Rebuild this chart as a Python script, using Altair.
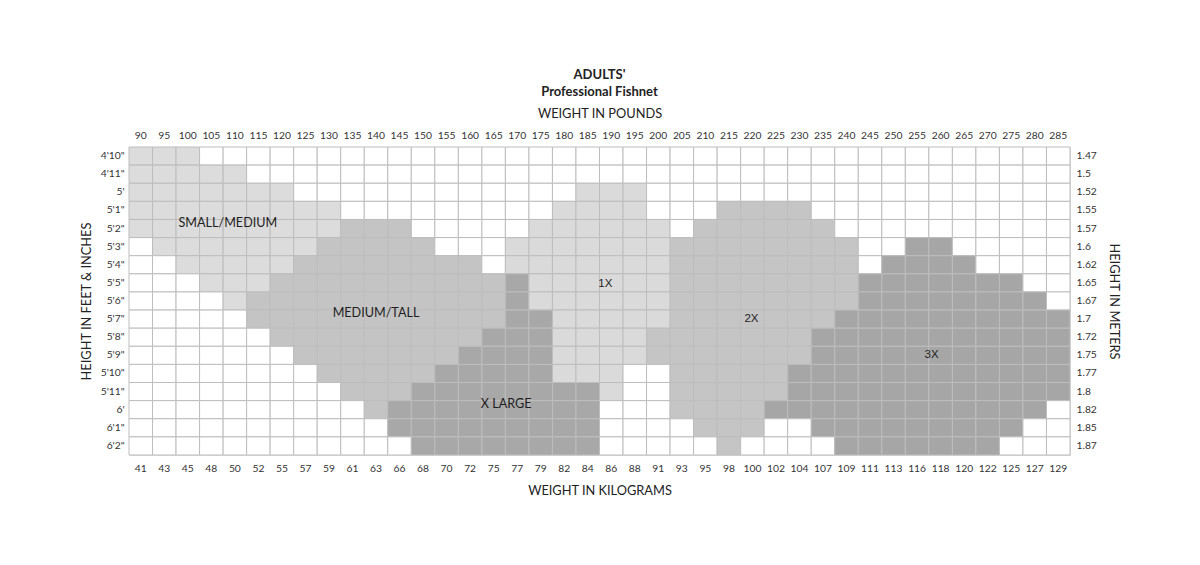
import altair as alt
import pandas as pd

# ---- data ----
lbs = [90, 95, 100, 105, 110, 115, 120, 125, 130, 135, 140, 145, 150, 155, 160, 165, 170, 175, 180, 185,
       190, 195, 200, 205, 210, 215, 220, 225, 230, 235, 240, 245, 250, 255, 260, 265, 270, 275, 280, 285]
kg = [41, 43, 45, 48, 50, 52, 55, 57, 59, 61, 63, 66, 68, 70, 72, 75, 77, 79, 82, 84,
      86, 88, 91, 93, 95, 98, 100, 102, 104, 107, 109, 111, 113, 116, 118, 120, 122, 125, 127, 129]
heights_ft = ["4'10\"", "4'11\"", "5'", "5'1\"", "5'2\"", "5'3\"", "5'4\"", "5'5\"", "5'6\"",
              "5'7\"", "5'8\"", "5'9\"", "5'10\"", "5'11\"", "6'", "6'1\"", "6'2\""]
heights_m = ["1.47", "1.5", "1.52", "1.55", "1.57", "1.6", "1.62", "1.65", "1.67",
             "1.7", "1.72", "1.75", "1.77", "1.8", "1.82", "1.85", "1.87"]

# (height, from lbs, to lbs) per size
small_medium = [("4'10\"", 90, 100), ("4'11\"", 90, 110), ("5'", 90, 120), ("5'1\"", 90, 130),
                ("5'2\"", 90, 130), ("5'3\"", 95, 125), ("5'4\"", 100, 120), ("5'5\"", 105, 115),
                ("5'6\"", 110, 110)]
medium_tall = [("5'2\"", 135, 145), ("5'3\"", 130, 150), ("5'4\"", 125, 160), ("5'5\"", 120, 165),
               ("5'6\"", 115, 165), ("5'7\"", 115, 165), ("5'8\"", 120, 160), ("5'9\"", 125, 155),
               ("5'10\"", 130, 150), ("5'11\"", 135, 145), ("6'", 140, 140)]
x_large = [("5'5\"", 170, 170), ("5'6\"", 170, 170), ("5'7\"", 170, 175), ("5'8\"", 165, 175),
           ("5'9\"", 160, 175), ("5'10\"", 155, 175), ("5'11\"", 150, 185), ("6'", 145, 185),
           ("6'1\"", 145, 185), ("6'2\"", 150, 185)]
one_x = [("5'", 185, 195), ("5'1\"", 180, 195), ("5'2\"", 175, 200), ("5'3\"", 170, 200),
         ("5'4\"", 170, 200), ("5'5\"", 175, 200), ("5'6\"", 175, 200), ("5'7\"", 180, 200),
         ("5'8\"", 180, 195), ("5'9\"", 180, 195), ("5'10\"", 180, 190), ("5'11\"", 190, 190)]
two_x = [("5'1\"", 215, 230), ("5'2\"", 210, 235), ("5'3\"", 205, 240), ("5'4\"", 205, 240),
         ("5'5\"", 205, 240), ("5'6\"", 205, 240), ("5'7\"", 205, 235), ("5'8\"", 200, 230),
         ("5'9\"", 200, 230), ("5'10\"", 205, 225), ("5'11\"", 205, 225), ("6'", 205, 220),
         ("6'1\"", 210, 220), ("6'2\"", 215, 215)]
three_x = [("5'3\"", 255, 260), ("5'4\"", 250, 265), ("5'5\"", 245, 275), ("5'6\"", 245, 280),
           ("5'7\"", 240, 285), ("5'8\"", 235, 285), ("5'9\"", 235, 285), ("5'10\"", 230, 285),
           ("5'11\"", 230, 285), ("6'", 225, 280), ("6'1\"", 235, 275), ("6'2\"", 240, 270)]

sizes = ["SMALL/MEDIUM", "MEDIUM/TALL", "X LARGE", "1X", "2X", "3X"]
size_ranges = [small_medium, medium_tall, x_large, one_x, two_x, three_x]
size_colors = ["#dcdcdc", "#c4c4c4", "#a8a8a8", "#dadada", "#c5c5c5", "#a6a6a6"]

# ---- build the cell table ----
lookup = {}
for name, ranges in zip(sizes, size_ranges):
    for h, a, b in ranges:
        for w in lbs:
            if a <= w <= b:
                lookup[(h, w)] = name

rows = []
for hi, h in enumerate(heights_ft):
    for wi, w in enumerate(lbs):
        rows.append({"lbs": w, "kg": kg[wi], "ft": h, "m": heights_m[hi],
                     "size": lookup.get((h, w), "none")})
cells = pd.DataFrame(rows)

FONT = "Lato"
LBL = "#333333"
TFS = 12.8

x_top = alt.X("lbs:O", sort=lbs, scale=alt.Scale(paddingInner=0, paddingOuter=0),
              axis=alt.Axis(orient="top", title="WEIGHT IN POUNDS", labelAngle=0, domain=False,
                            ticks=False, labelPadding=7, labelFont=FONT, labelFontSize=10.3,
                            labelColor=LBL, titleFont=FONT, titleFontSize=TFS,
                            titleFontWeight="normal", titleColor="#222222", titleY=-34,
                            titleBaseline="middle"))
y_left = alt.Y("ft:O", sort=heights_ft, scale=alt.Scale(paddingInner=0, paddingOuter=0),
               axis=alt.Axis(orient="left", title="HEIGHT IN FEET & INCHES", domain=False,
                             ticks=False, labelPadding=5, labelFont=FONT, labelFontSize=10.3,
                             labelColor=LBL, titleFont=FONT, titleFontSize=TFS,
                             titleFontWeight="normal", titleColor="#222222", titleX=-43,
                             titleAngle=-90, titleBaseline="middle"))

grid = alt.Chart(cells).mark_rect(stroke="#bdbdbd", strokeWidth=1).encode(
    x=x_top,
    y=y_left,
    color=alt.Color("size:N", scale=alt.Scale(domain=sizes + ["none"], range=size_colors + ["#ffffff"]),
                    legend=None),
)

second = alt.Chart(cells).mark_rect(opacity=0).encode(
    x=alt.X("kg:O", sort=kg, scale=alt.Scale(paddingInner=0, paddingOuter=0),
            axis=alt.Axis(orient="bottom", title="WEIGHT IN KILOGRAMS", labelAngle=0, domain=False,
                          ticks=False, labelPadding=8, labelFont=FONT, labelFontSize=10.3,
                          labelColor=LBL, titleFont=FONT, titleFontSize=TFS,
                          titleFontWeight="normal", titleColor="#222222", titleY=35,
                          titleBaseline="middle")),
    y=alt.Y("m:O", sort=heights_m, scale=alt.Scale(paddingInner=0, paddingOuter=0),
            axis=alt.Axis(orient="right", title="HEIGHT IN METERS", domain=False, ticks=False,
                          labelPadding=6, labelFont=FONT, labelFontSize=10.3, labelColor=LBL,
                          titleFont=FONT, titleFontSize=TFS, titleFontWeight="normal",
                          titleColor="#222222", titleX=43, titleAngle=90, titleBaseline="middle")),
)

# size labels: (text, lbs column, height row)
label_text = ["SMALL/MEDIUM", "MEDIUM/TALL", "X LARGE", "1X", "2X", "3X"]
label_lbs = [110, 140, 170, 190, 220, 260]
label_ft = ["5'2\"", "5'7\"", "6'", "5'5\"", "5'7\"", "5'9\""]
label_dx = [-7, 0, -11, -6, -1, -9]
label_dy = [-6, -6, -6, 1, 0, 0]
label_font = [FONT, FONT, FONT, "Liberation Sans", "Liberation Sans", "Liberation Sans"]

text_layers = []
for t, w, h, dx, dy, f in zip(label_text, label_lbs, label_ft, label_dx, label_dy, label_font):
    df = pd.DataFrame({"lbs": [w], "ft": [h], "label": [t]})
    text_layers.append(
        alt.Chart(df).mark_text(font=f, fontSize=12.6 if f == FONT else 11.5, color="#1e1e1e",
                                dx=dx, dy=dy).encode(
            x=alt.X("lbs:O", sort=lbs), y=alt.Y("ft:O", sort=heights_ft), text="label:N")
    )

top = alt.layer(grid, *text_layers)

chart = alt.layer(top, second).resolve_scale(x="independent", y="independent").properties(
    width=941, height=308,
    title=alt.TitleParams(text=["ADULTS'", "Professional Fishnet"], font=FONT, fontSize=13,
                          fontWeight="bold", color="#222222", anchor="middle", offset=8,
                          lineHeight=17),
    autosize=alt.AutoSizeParams(type="none"),
    padding={"left": 129, "top": 147, "right": 130, "bottom": 110},
).configure_view(stroke=None).configure(background="#ffffff")

chart.save("out.html", embed_options={"renderer": "svg", "actions": False})
